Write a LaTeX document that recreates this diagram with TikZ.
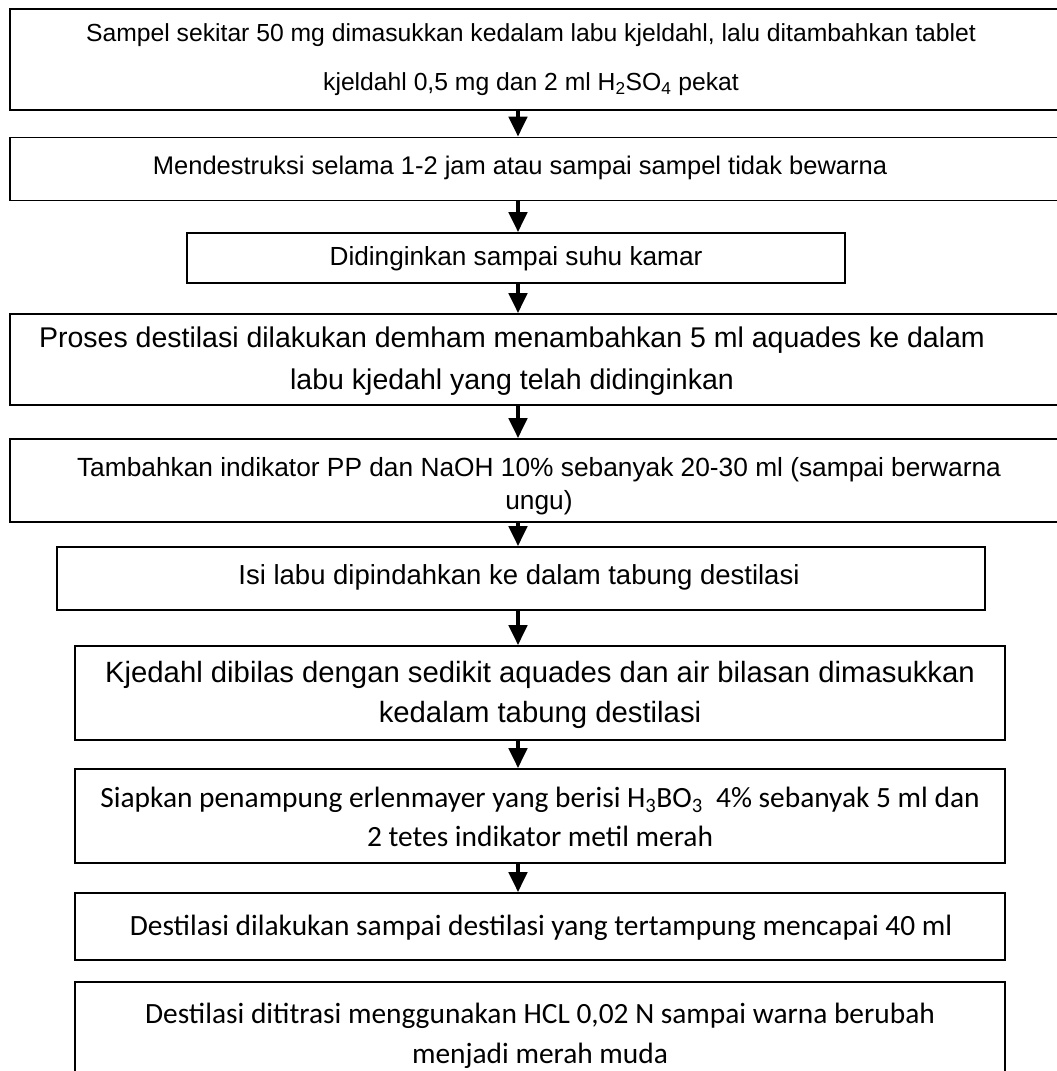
\documentclass[tikz,border=0pt]{standalone}
\usepackage{fontspec}
\setmainfont{Liberation Sans}
\newfontfamily\calib{Carlito}
\usetikzlibrary{arrows.meta}
\begin{document}
\begin{tikzpicture}[x=1pt,y=-1pt,
  box/.style={draw=black, line width=1.6pt, inner sep=0pt},
  txt/.style={align=center, inner sep=0pt},
  arr/.style={line width=4.5pt, -{Triangle[width=18pt,length=20pt]}},
  ]
\useasboundingbox (0,0) rectangle (1057,1071);
\clip (0,0) rectangle (1057,1071);
\fill[white] (0,0) rectangle (1057,1071);
\coordinate (ax) at (518,0);
% boxes
\node[box, minimum width=1052pt, minimum height=101pt] (b1) at (536,59.5) {};
\node[box, minimum width=1052pt, minimum height=63pt] (b2) at (536,169) {};
\node[box, minimum width=658pt, minimum height=50pt] (b3) at (516,258) {};
\node[box, minimum width=1052pt, minimum height=91pt] (b4) at (536,359.5) {};
\node[box, minimum width=1052pt, minimum height=83pt] (b5) at (536,480.5) {};
\node[box, minimum width=928pt, minimum height=63pt] (b6) at (521,578.5) {};
\node[box, minimum width=930pt, minimum height=94pt] (b7) at (540,693) {};
\node[box, minimum width=930pt, minimum height=94pt] (b8) at (540,816) {};
\node[box, minimum width=930pt, minimum height=67pt] (b9) at (540,926.5) {};
\node[box, minimum width=930pt, minimum height=118pt] (b10) at (540,1041) {};
% texts
\node[txt, font={\fontsize{24.7}{49}\selectfont}] (t1) at (531,60)
  {Sampel sekitar 50 mg dimasukkan kedalam labu kjeldahl, lalu ditambahkan tablet\\
   kjeldahl 0,5 mg dan 2 ml H\textsubscript{2}SO\textsubscript{4} pekat};
\node[txt, font={\fontsize{25.5}{30}\selectfont}] (t2) at (520,168)
  {Mendestruksi selama 1-2 jam atau sampai sampel tidak bewarna};
\node[txt, font={\fontsize{26.2}{30}\selectfont}] (t3) at (516,259)
  {Didinginkan sampai suhu kamar};
\node[txt, font={\fontsize{28.5}{42}\selectfont}] (t4) at (512,361)
  {Proses destilasi dilakukan demham menambahkan 5 ml aquades ke dalam\\
   labu kjedahl yang telah didinginkan};
\node[txt, font={\fontsize{26.3}{33}\selectfont}] (t5) at (539,486)
  {Tambahkan indikator PP dan NaOH 10\% sebanyak 20-30 ml (sampai berwarna\\ ungu)};
\node[txt, font={\fontsize{27.5}{34}\selectfont}] (t6) at (519,577)
  {Isi labu dipindahkan ke dalam tabung destilasi};
\node[txt, font={\fontsize{29.3}{40}\selectfont}] (t7) at (540,695)
  {Kjedahl dibilas dengan sedikit aquades dan air bilasan dimasukkan\\
   kedalam tabung destilasi};
\node[txt, font={\calib\fontsize{29.4}{39}\selectfont}] (t8) at (540,817)
  {Siapkan penampung erlenmayer yang berisi H\textsubscript{3}BO\textsubscript{3}\ \ 4\% sebanyak 5 ml dan\\
   2 tetes indikator metil merah};
\node[txt, font={\calib\fontsize{29.4}{34}\selectfont}] (t9) at (541,928)
  {Destilasi dilakukan sampai destilasi yang tertampung mencapai 40 ml};
\node[txt, font={\calib\fontsize{29.4}{40}\selectfont}] (t10) at (540,1036)
  {Destilasi dititrasi menggunakan HCL 0,02 N sampai warna berubah\\
   menjadi merah muda};
% arrows
\draw[arr] (b1.south -| ax) -- (b2.north -| ax);
\draw[arr] (b2.south -| ax) -- (b3.north -| ax);
\draw[arr] (b3.south -| ax) -- (b4.north -| ax);
\draw[arr] (b4.south -| ax) -- (b5.north -| ax);
\draw[arr] (b5.south -| ax) -- (b6.north -| ax);
\draw[arr] (b6.south -| ax) -- (b7.north -| ax);
\draw[arr] (b7.south -| ax) -- (b8.north -| ax);
\draw[arr] (b8.south -| ax) -- (b9.north -| ax);
\end{tikzpicture}
\end{document}
